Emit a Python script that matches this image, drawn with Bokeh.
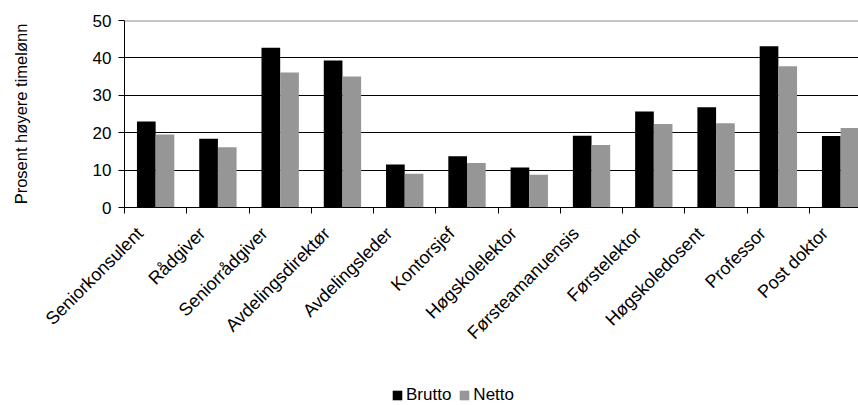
import math

from bokeh.embed import file_html
from bokeh.layouts import column
from bokeh.models import (ColumnDataSource, CustomJSTickFormatter, FixedTicker,
                          Legend, LegendItem, Range1d, Span)
from bokeh.plotting import figure
from bokeh.resources import INLINE

# Stillingskategorier og prosent høyere timelønn (brutto / netto)
categories = ["Seniorkonsulent", "Rådgiver", "Seniorrådgiver", "Avdelingsdirektør",
              "Avdelingsleder", "Kontorsjef", "Høgskolelektor", "Førsteamanuensis",
              "Førstelektor", "Høgskoledosent", "Professor", "Post doktor"]
brutto = [23.0, 18.4, 42.7, 39.3, 11.5, 13.7, 10.7, 19.2, 25.7, 26.8, 43.1, 19.1]
netto = [19.5, 16.1, 36.1, 35.0, 9.0, 11.9, 8.75, 16.7, 22.3, 22.5, 37.8, 21.25]
y_ticks = [0, 10, 20, 30, 40, 50]
series_names = ["Brutto", "Netto"]
series_colors = ["#000000", "#969696"]

FONT = "Liberation Sans"
BAR_W = 0.3
LABEL_SHIFT = 0.25   # pulls the rotated category labels left of the centre

idx = list(range(len(categories)))
src = ColumnDataSource(dict(
    xb=[i + 0.5 - BAR_W / 2 for i in idx],
    xn=[i + 0.5 + BAR_W / 2 for i in idx],
    brutto=brutto,
    netto=netto,
))

p = figure(width=858, height=380, output_backend="svg", toolbar_location=None,
           x_range=Range1d(0, 11.787), y_range=Range1d(0, 50),
           min_border_left=124, min_border_right=0,
           min_border_top=20, min_border_bottom=173)
p.outline_line_color = None
p.background_fill_color = "white"
p.border_fill_color = "white"

p.vbar(x="xb", width=BAR_W, top="brutto", bottom=0, source=src,
       fill_color=series_colors[0], line_color=None)
p.vbar(x="xn", width=BAR_W, top="netto", bottom=0, source=src,
       fill_color=series_colors[1], line_color=None)

# top edge of the plot area
p.add_layout(Span(location=50, dimension="width", line_color="#8c8c8c", line_width=2))

# grid
p.xgrid.visible = False
p.ygrid.ticker = FixedTicker(ticks=[10, 20, 30, 40])
p.ygrid.grid_line_color = "#000000"
p.ygrid.grid_line_width = 1

# y axis
ya = p.yaxis[0]
ya.ticker = FixedTicker(ticks=y_ticks, minor_ticks=[])
ya.axis_line_color = "black"
ya.major_tick_line_color = "black"
ya.major_tick_out = 6
ya.major_tick_in = 0
ya.minor_tick_line_color = None
ya.major_label_standoff = 7
ya.major_label_text_font = FONT
ya.major_label_text_font_size = "17px"
ya.major_label_text_color = "black"
ya.axis_label = "Prosent høyere timelønn"
ya.axis_label_text_font = FONT
ya.axis_label_text_font_size = "16.5px"
ya.axis_label_text_font_style = "normal"
ya.axis_label_text_color = "black"
ya.axis_label_standoff = 60

# x axis: labels near category centres, tick marks at category boundaries
xa = p.xaxis[0]
xa.ticker = FixedTicker(ticks=[i + 0.5 - LABEL_SHIFT for i in idx],
                        minor_ticks=list(range(len(categories) + 1)))
xa.formatter = CustomJSTickFormatter(args=dict(names=categories),
                                     code="return names[Math.round(tick)] || '';")
xa.axis_line_color = "black"
xa.major_tick_line_color = None
xa.minor_tick_line_color = "black"
xa.minor_tick_out = 6
xa.minor_tick_in = 0
xa.major_label_orientation = math.pi / 4
xa.major_label_standoff = 17
xa.major_label_text_font = FONT
xa.major_label_text_font_size = "18px"
xa.major_label_text_color = "black"

# legend strip underneath the chart (its frame lines up with the chart frame)
leg = figure(width=858, height=25, output_backend="svg", toolbar_location=None,
             x_range=Range1d(0, 11.787), y_range=Range1d(0, 1),
             x_axis_location=None, y_axis_location=None,
             min_border_left=124, min_border_right=0, min_border_top=0, min_border_bottom=0)
leg.outline_line_color = None
leg.xgrid.visible = False
leg.ygrid.visible = False
# zero-height swatch renderers: they only feed the legend glyphs
swatches = [leg.vbar(x=xcol, top=0, bottom=0, width=BAR_W, source=src,
                     fill_color=c, line_color=None)
            for xcol, c in zip(["xb", "xn"], series_colors)]
legend = Legend(items=[LegendItem(label=n, renderers=[r]) for n, r in zip(series_names, swatches)],
                orientation="horizontal", location=(267, 0),
                glyph_width=12, glyph_height=12, label_standoff=3, spacing=7,
                padding=0, margin=0, border_line_color=None,
                background_fill_alpha=0, label_height=12,
                label_text_font=FONT, label_text_font_size="17px",
                label_text_color="black")
leg.add_layout(legend, "center")

open("out.html", "w").write(file_html(column(p, leg, spacing=0), INLINE))
